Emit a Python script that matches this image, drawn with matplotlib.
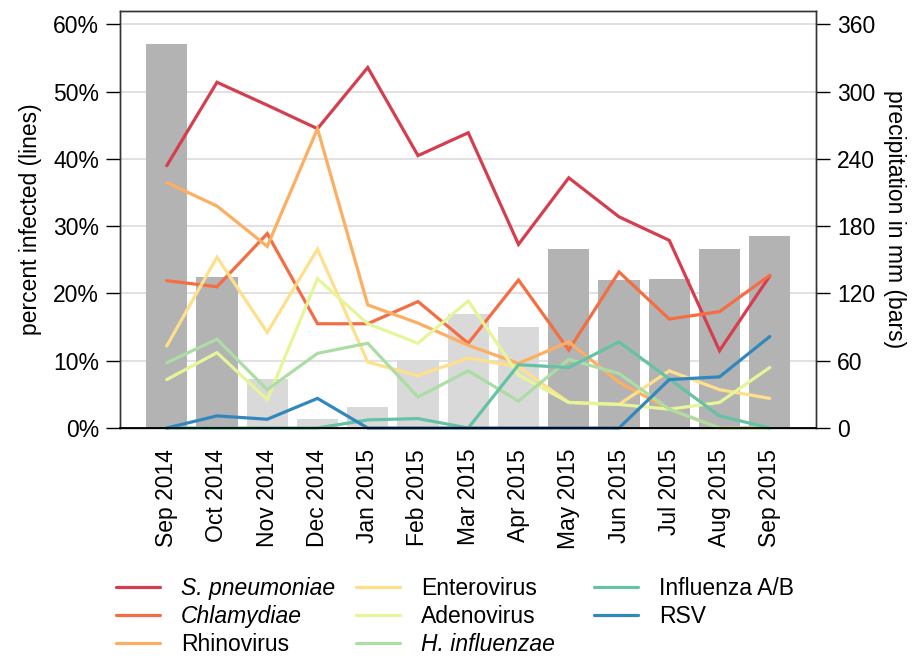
import matplotlib
matplotlib.use("Agg")
import matplotlib.pyplot as plt
from matplotlib.ticker import FuncFormatter

plt.rcParams['font.family'] = ['Liberation Sans', 'DejaVu Sans']

months = ["Sep 2014", "Oct 2014", "Nov 2014", "Dec 2014", "Jan 2015", "Feb 2015",
          "Mar 2015", "Apr 2015", "May 2015", "Jun 2015", "Jul 2015", "Aug 2015", "Sep 2015"]

precip_mm = [343, 135, 44, 8, 19, 61, 102, 90, 160, 132, 133, 160, 171]
wet_season = [True, True, False, False, False, False, False, False, True, True, True, True, True]

series_names = ["S. pneumoniae", "Chlamydiae", "Rhinovirus", "Enterovirus",
                "Adenovirus", "H. influenzae", "Influenza A/B", "RSV"]
italic_names = ["S. pneumoniae", "Chlamydiae", "H. influenzae"]

s_pneumoniae = [39.0, 51.4, 48.0, 44.5, 53.6, 40.5, 43.9, 27.3, 37.2, 31.4, 27.9, 11.5, 22.6]
chlamydiae   = [21.9, 21.0, 28.9, 15.5, 15.5, 18.8, 12.6, 22.0, 11.6, 23.2, 16.2, 17.3, 22.7]
rhinovirus   = [36.5, 33.0, 27.0, 44.5, 18.3, 15.6, 12.3, 9.6, 12.8, 6.8, 2.8, 0.0, 0.0]
enterovirus  = [12.2, 25.4, 14.2, 26.6, 9.8, 7.8, 10.4, 9.1, 3.8, 3.5, 8.5, 5.7, 4.4]
adenovirus   = [7.2, 11.2, 4.2, 22.2, 15.5, 12.6, 18.9, 7.9, 3.8, 3.5, 2.8, 3.8, 9.0]
h_influenzae = [9.7, 13.2, 5.7, 11.1, 12.6, 4.6, 8.5, 4.0, 10.2, 8.1, 2.8, 0.0, 0.0]
influenza_ab = [0.0, 0.0, 0.0, 0.0, 1.2, 1.4, 0.0, 9.4, 9.0, 12.8, 7.3, 1.8, 0.0]
rsv          = [0.0, 1.8, 1.3, 4.4, 0.0, 0.0, 0.0, 0.0, 0.0, 0.0, 7.2, 7.6, 13.6]

series = [s_pneumoniae, chlamydiae, rhinovirus, enterovirus,
          adenovirus, h_influenzae, influenza_ab, rsv]
colors = ["#d53e4f", "#f46d43", "#fdae61", "#fee08b",
          "#e6f598", "#abdda4", "#66c2a5", "#3288bd"]
bar_dark = "#b3b3b3"
bar_light = "#d9d9d9"
FS = 16.5

fig = plt.figure(figsize=(9.13, 6.58), dpi=100)
ax = fig.add_axes([120/913, 1-428/658, (816-120)/913, (428-11)/658])
ax2 = ax.twinx()

x = list(range(len(months)))
bar_colors = [bar_dark if w else bar_light for w in wet_season]
ax2.bar(x, precip_mm, width=0.82, color=bar_colors, zorder=2)
ax2.set_ylim(0, 372)
ax2.set_yticks([0, 60, 120, 180, 240, 300, 360])
ax2.yaxis.grid(True, color="#dcdcdc", linewidth=1.2, zorder=0)
ax2.set_axisbelow(True)
ax2.set_ylabel("precipitation in mm (bars)", rotation=270, fontsize=FS, labelpad=22)

ax.set_zorder(ax2.get_zorder() + 1)
ax.patch.set_visible(False)
handles = []
for name, vals, c in zip(series_names, series, colors):
    h, = ax.plot(x, [v / 100 for v in vals], color=c, linewidth=2.3, label=name,
                 solid_capstyle='round', solid_joinstyle='miter', clip_on=False)
    handles.append(h)
ax.set_ylim(0, 0.62)
ax.set_yticks([0, 0.1, 0.2, 0.3, 0.4, 0.5, 0.6])
ax.yaxis.set_major_formatter(FuncFormatter(lambda v, p: f"{v*100:.0f}%"))
ax.set_ylabel("percent infected (lines)", fontsize=FS, labelpad=8)
ax.set_xlim(-0.93, 12.92)
ax.set_xticks(x)
ax.set_xticklabels(months, rotation=90, fontsize=FS)
ax.tick_params(axis='x', length=0, pad=15)
ax.tick_params(axis='y', length=10, width=1, labelsize=FS, direction='out', pad=5)
ax2.tick_params(axis='y', length=10, width=1, labelsize=FS, direction='out', pad=5)

for a in (ax, ax2):
    for s in a.spines.values():
        s.set_color("#333333")
        s.set_linewidth(1)
ax.spines['bottom'].set_color("black")
ax.spines['bottom'].set_linewidth(1.3)

col_groups = [(0, 3), (3, 6), (6, 8)]
col_x = [116, 356, 594]
for (i0, i1), cx in zip(col_groups, col_x):
    leg = fig.legend(handles=handles[i0:i1], loc='upper left',
                     bbox_to_anchor=(cx/913, 1-577/658), ncol=1, frameon=False,
                     fontsize=FS, handlelength=1.92, handletextpad=0.92,
                     labelspacing=0.22, borderpad=0, borderaxespad=0)
    for t in leg.get_texts():
        if t.get_text() in italic_names:
            t.set_fontstyle('italic')

fig.savefig("out.png", dpi=100)
